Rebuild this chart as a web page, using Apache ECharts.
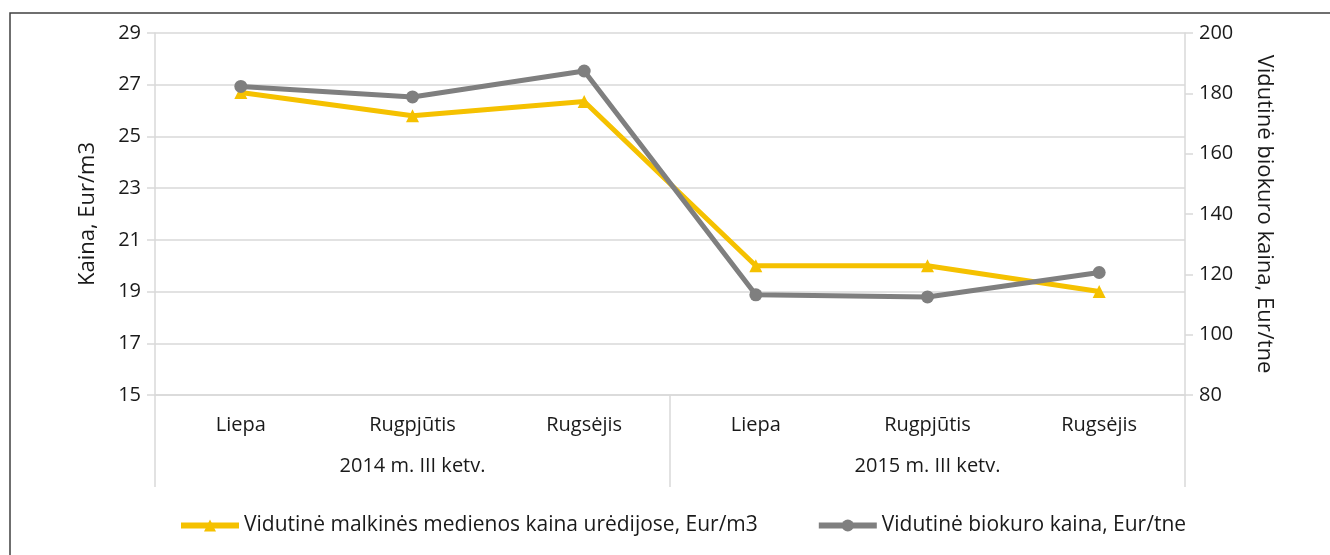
<!DOCTYPE html>
<html>
<head>
<meta charset="utf-8">
<script src="https://cdn.jsdelivr.net/npm/echarts@6/dist/echarts.min.js"></script>
<style>
  html, body { margin: 0; padding: 0; background: #fff; }
  #chart { width: 1330px; height: 555px; }
</style>
</head>
<body>
<div id="chart"></div>
<script>
const months = ['Liepa', 'Rugpjūtis', 'Rugsėjis', 'Liepa', 'Rugpjūtis', 'Rugsėjis']
const groups = ['2014 m. III ketv.', '2015 m. III ketv.']
const woodName = 'Vidutinė malkinės medienos kaina urėdijose, Eur/m3'
const bioName = 'Vidutinė biokuro kaina, Eur/tne'
const woodPrice = [26.7, 25.8, 26.35, 20.0, 20.0, 19.0]   // kairė ašis
const bioPrice = [182.3, 178.8, 187.4, 113.2, 112.5, 120.6] // dešinė ašis

const font = '"Open Sans", sans-serif'
const gridColor = '#d9d9d9'
const txt = '#1a1a1a'

const chart = echarts.init(document.getElementById('chart'))
chart.setOption({
  animation: false,
  textStyle: { fontFamily: font },
  grid: { left: 155, right: 145, top: 33, bottom: 160 },
  graphic: [{
    type: 'polyline',
    shape: { points: [[10, 560], [10, 13], [1335, 13]] },
    style: { stroke: '#404040', lineWidth: 1.5, fill: null }
  }],
  legend: {
    left: 173,
    top: 510,
    itemWidth: 58,
    itemHeight: 15,
    itemGap: 58,
    lineStyle: { width: 6 },
    textStyle: { fontSize: 21, color: txt, fontFamily: font },
    data: [woodName, bioName]
  },
  xAxis: [
    {
      type: 'category',
      data: months,
      axisLine: { lineStyle: { color: gridColor, width: 1.5 } },
      axisTick: { show: false },
      axisLabel: { fontSize: 20, color: txt, margin: 20, fontFamily: font }
    },
    {
      type: 'category',
      data: groups,
      position: 'bottom',
      offset: 92,
      axisLine: { show: false },
      axisTick: { show: true, inside: true, length: 92, lineStyle: { color: gridColor, width: 1.5 } },
      axisLabel: { fontSize: 20, color: txt, margin: -31, fontFamily: font }
    }
  ],
  yAxis: [
    {
      type: 'value',
      min: 15, max: 29, interval: 2,
      name: 'Kaina, Eur/m3',
      nameLocation: 'middle',
      nameGap: 56,
      nameTextStyle: { fontSize: 22, color: txt, fontFamily: font },
      axisLine: { show: true, lineStyle: { color: gridColor, width: 1.5 } },
      axisTick: { show: true, length: 8, lineStyle: { color: gridColor, width: 1.5 } },
      axisLabel: { fontSize: 20, color: txt, margin: 14, fontFamily: font },
      splitLine: { lineStyle: { color: gridColor, width: 1.5 } }
    },
    {
      type: 'value',
      min: 80, max: 200, interval: 20,
      name: bioName,
      nameLocation: 'middle',
      nameGap: 68,
      nameRotate: -90,
      nameTextStyle: { fontSize: 22, color: txt, fontFamily: font },
      axisLine: { show: true, lineStyle: { color: gridColor, width: 1.5 } },
      axisTick: { show: true, length: 8, lineStyle: { color: gridColor, width: 1.5 } },
      axisLabel: { fontSize: 20, color: txt, margin: 14, fontFamily: font },
      splitLine: { show: false }
    }
  ],
  series: [
    {
      name: woodName,
      type: 'line',
      yAxisIndex: 0,
      data: woodPrice,
      symbol: 'triangle',
      symbolSize: 13,
      lineStyle: { color: '#f5c100', width: 5 },
      itemStyle: { color: '#f5c100' },
      z: 2
    },
    {
      name: bioName,
      type: 'line',
      yAxisIndex: 1,
      data: bioPrice,
      symbol: 'circle',
      symbolSize: 13,
      lineStyle: { color: '#7f7f7f', width: 5 },
      itemStyle: { color: '#7f7f7f' },
      z: 3
    }
  ]
})
</script>
</body>
</html>
